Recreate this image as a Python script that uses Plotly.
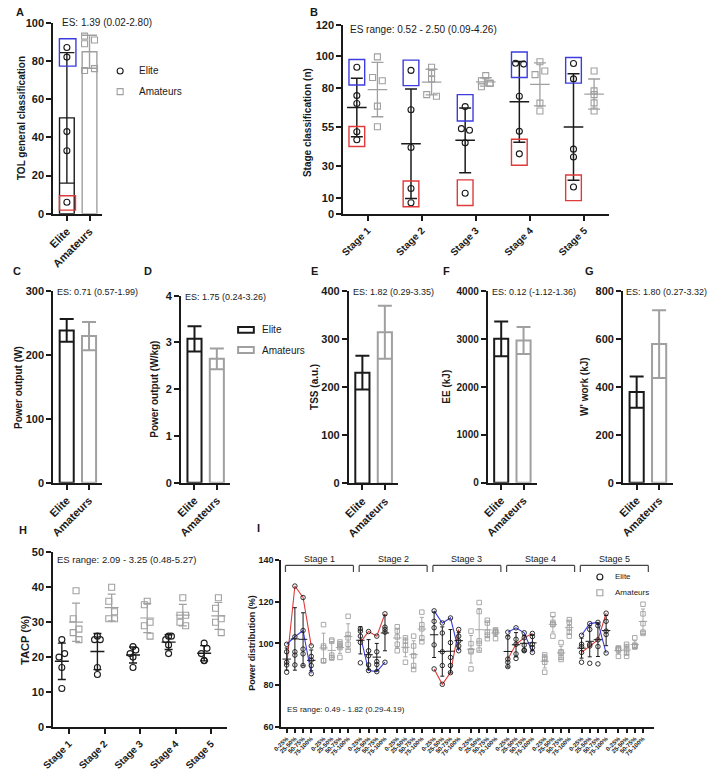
import numpy as np
import plotly.graph_objects as go

W, H = 708, 772
FONT = "Liberation Sans"
BLACK = "#1a1a1a"
GREY = "#a0a0a0"
BLUE = "#3c3ce0"
RED = "#e03a3a"

# ---------------- data ----------------
groups = ["Elite", "Amateurs"]

# A: TOL general classification
tol_elite = [87, 82, 43, 33, 6]
tol_amateurs = [93, 91, 89, 75, 76]
tol_top_box = [77.3, 91.6]
tol_bottom_box = [1.9, 9.4]
tol_es = "ES: 1.39 (0.02-2.80)"

# B: stage classification
stages = ["Stage 1", "Stage 2", "Stage 3", "Stage 4", "Stage 5"]
stage_elite = [[93, 75, 70, 52, 47],
               [91, 66, 42, 16, 7],
               [68, 54, 53, 45, 13],
               [95.5, 95, 74.6, 52.3, 38],
               [95.4, 85.6, 41, 36, 17]]
stage_amateurs = [[99.6, 86.5, 84.4, 68.3, 55.2],
                  [93, 89, 85.6, 75.6, 74.6],
                  [87.7, 84.4, 82.7, 80.6, 83],
                  [96.5, 88.3, 90.6, 70.2, 65.2],
                  [90.6, 78, 75.6, 70.4, 65.2]]
stage_top_box = [[81.7, 97.9], [81.3, 97.5], [58.9, 75.6], [86.5, 102.7], [82.9, 99.2]]
stage_bottom_box = [[42.7, 55.4], [4.4, 20.8], [5.2, 21.5], [30.8, 47.3], [8.3, 24.6]]
stage_es = "ES range: 0.52 - 2.50 (0.09-4.26)"

# C-G: means and SD
power_w_mean = [239, 230]
power_w_sd = [18, 22]
power_wkg_mean = [3.08, 2.65]
power_wkg_sd = [0.27, 0.22]
tss_mean = [230, 314]
tss_sd = [35, 55]
ee_mean = [3010, 2975]
ee_sd = [365, 280]
wwork_mean = [378, 578]
wwork_sd = [65, 141]
es_c = "ES: 0.71 (0.57-1.99)"
es_d = "ES: 1.75 (0.24-3.26)"
es_e = "ES: 1.82 (0.29-3.35)"
es_f = "ES: 0.12 (-1.12-1.36)"
es_g = "ES: 1.80 (0.27-3.32)"

# H: TACP
tacp_elite = [[25, 21, 20, 17, 11],
              [26, 25, 25, 17, 15],
              [23, 22, 21, 20, 17],
              [26, 26, 25, 23.5, 21],
              [24, 22.5, 21, 19, 19]]
tacp_amateurs = [[39, 31, 28, 27, 25],
                 [40, 36, 33, 31, 31],
                 [36, 35, 30, 29, 26],
                 [37, 32, 32, 30, 29],
                 [37, 34, 31, 30, 27]]
tacp_es = "ES range: 2.09 - 3.25 (0.48-5.27)"

# I: power distribution by quartile of each stage
quartiles = ["0-25%", "25-50%", "50-75%", "75-100%"]
pd_elite = [
    [[99.6, 96, 91, 89.7, 86.2], [127.5, 103.2, 96, 94.4, 89.7], [122, 106.2, 97.3, 95, 89.4], [98.8, 93.8, 92, 89.4, 85.5]],
    [[107, 105.9, 103.5, 100.5, 90.7], [105.7, 96.5, 94.1, 89.7, 87], [103.5, 96, 91.3, 89.9, 86.5], [114.2, 107.8, 106.7, 105.4, 91]],
    [[115.6, 110.6, 107.5, 99.3, 87.8], [109.8, 105, 96, 89.4, 80.4], [112.2, 100.4, 93.3, 89.4, 86], [106.7, 103.5, 101.2, 98.8, 96.5]],
    [[105.4, 103, 92.5, 91, 88.9], [107.5, 102, 99.6, 95, 92.8], [105.1, 102.7, 99.2, 96.8, 96.5], [104.8, 103.3, 99.6, 98, 95.7]],
    [[103.9, 99.6, 98.5, 95.7, 91], [109.5, 106.7, 99.6, 98.8, 90.5], [110.1, 108.5, 101.7, 98.5, 90.2], [114.5, 110.6, 105.9, 104.3, 95.4]],
]
pd_amateurs = [
    [[109, 98.8, 98, 91.7, 91.7], [101.6, 101, 94.4, 93.3, 93], [100.7, 99.6, 98.8, 98, 93.3], [113, 104.3, 102.7, 99.6, 96.8]],
    [[108, 105.9, 103.1, 99.6, 96.5], [102.7, 101, 99.2, 96.8, 91], [103.5, 98.8, 94.1, 89.4, 87.5], [115, 109, 107, 102.7, 100.8]],
    [[105.9, 99.9, 96.5, 96, 87.8], [119.6, 115.3, 101.2, 100, 96.8], [111.1, 109.8, 105.4, 104, 102.3], [106.5, 106, 105.4, 105, 102.3]],
    [[94.5, 93, 92.5, 91, 86.2], [113.8, 110.1, 109.3, 109, 103.5], [100.4, 96, 95.4, 93.3, 92.3], [111.4, 110.1, 107.5, 105.4, 103.5]],
    [[97.8, 97.6, 97.3, 96.7, 93.8], [99.6, 98.5, 97, 95.4, 93.8], [102.7, 99.2, 98.8, 98.5, 98.3], [118.8, 114.2, 109.5, 105.4, 104.8]],
]
pd_red = [[89.7, 127.5, 122, 98.8], [100.5, 105.7, 103.5, 114.2], [87.8, 80.4, 86, 106.7],
          [92.5, 99.6, 102.7, 104.8], [95.7, 98.8, 101.7, 114.5]]
pd_blue = [[99.6, 103.2, 106.2, 85.5], [103.5, 87, 86.5, 91], [115.6, 109.8, 112.2, 96.5],
           [105.4, 107.5, 105.1, 95.7], [103.9, 109.5, 110.1, 95.4]]
pd_es = "ES range: 0.49 - 1.82 (0.29-4.19)"

# ---------------- style constants ----------------
A_JIT_AM = [-0.22, 0.22, -0.22, -0.22, 0.22]
B_JIT_E = [[0, 0, 0, 0, 0], [0, 0, 0, 0, 0], [0, -0.07, 0.08, 0, 0], [-0.07, 0.08, 0, 0, 0], [0, 0, 0, 0, 0]]
B_JIT_A = [[0, -0.09, 0.09, 0, 0], [0, 0, 0, -0.09, 0.09], [0, -0.08, 0.08, -0.08, 0.08], [0, -0.09, 0.09, 0, 0], [0, 0, 0, 0, 0]]
H_JIT_E = [0, 0.08, -0.08, 0, 0]
H_JIT_A = [0, -0.08, 0.08, -0.08, 0.08]


def fx(p):
    return p / W


def fy(p):
    return 1 - p / H


fig = go.Figure()
layout = dict(width=W, height=H, margin=dict(l=0, r=0, t=0, b=0),
              plot_bgcolor="rgba(0,0,0,0)", paper_bgcolor="white", showlegend=False,
              barmode="overlay", font=dict(family=FONT, color=BLACK))
annotations = []
shapes = []

common = dict(showline=True, linecolor=BLACK, linewidth=2, ticks="outside", ticklen=5,
              tickwidth=2, tickcolor=BLACK, showgrid=False, zeroline=False, fixedrange=True)


def axes(n, xpx, ypx, xr, yr, xt, xtt, yt, xfs=11, yfs=11):
    sx = "" if n == 1 else str(n)
    layout["xaxis" + sx] = dict(domain=[fx(xpx[0]), fx(xpx[1])], range=xr, anchor="y" + sx,
                                tickmode="array", tickvals=list(xt), ticktext=list(xtt), tickangle=-45,
                                tickfont=dict(family=FONT, size=xfs, color=BLACK, weight="bold"), **common)
    layout["yaxis" + sx] = dict(domain=[fy(ypx[1]), fy(ypx[0])], range=yr, anchor="x" + sx,
                                tickmode="array", tickvals=list(yt), ticktext=[str(v) for v in yt],
                                tickfont=dict(family=FONT, size=yfs, color=BLACK, weight="bold"), **common)
    return "x" + sx, "y" + sx


def txt(x, y, s, size, bold=False, anchor="left", angle=0):
    if bold:
        s = "<b>" + s + "</b>"
    annotations.append(dict(x=fx(x), y=fy(y), xref="paper", yref="paper", text=s, showarrow=False,
                            xanchor=anchor, yanchor="middle", textangle=angle, borderpad=0,
                            font=dict(family=FONT, size=size, color=BLACK)))


def sd(v):
    return float(np.std(v, ddof=1))


def bar(xa, ya, i, m, s, lw=2, cap=7, bw=0.63):
    col = BLACK if i == 0 else GREY
    fig.add_trace(go.Bar(x=[i], y=[m], width=bw,
                         marker=dict(color="white", line=dict(color=col, width=lw)),
                         error_y=dict(type="data", array=[s], symmetric=True, color=col, thickness=lw, width=cap),
                         xaxis=xa, yaxis=ya, hoverinfo="skip"))


def meanbar(xa, ya, x, vals, col, msize, cap, lw=1.5):
    fig.add_trace(go.Scatter(x=[x], y=[float(np.mean(vals))], mode="markers",
                             marker=dict(symbol="line-ew", size=msize, color=col, line=dict(color=col, width=lw)),
                             error_y=dict(type="data", array=[sd(vals)], color=col, thickness=lw, width=cap),
                             xaxis=xa, yaxis=ya, hoverinfo="skip"))


def pts(xa, ya, xs, ys, elite, size=6, lw=1.1):
    fig.add_trace(go.Scatter(x=xs, y=ys, mode="markers",
                             marker=dict(symbol="circle-open" if elite else "square-open", size=size,
                                         color=BLACK if elite else GREY, line=dict(width=lw)),
                             xaxis=xa, yaxis=ya, hoverinfo="skip"))


def box(xa, ya, x0, x1, yy, col):
    shapes.append(dict(type="rect", xref=xa, yref=ya, x0=x0, x1=x1, y0=yy[0], y1=yy[1],
                       line=dict(color=col, width=1.4), fillcolor="rgba(0,0,0,0)"))


# ---------------- A ----------------
xa, ya = axes(1, (42, 92), (17, 211), [-0.6, 1.57], [0, 100], [0, 1], groups, [0, 20, 40, 60, 80, 100])
bar(xa, ya, 0, float(np.mean(tol_elite)), sd(tol_elite), lw=1.4, cap=7.5, bw=0.65)
bar(xa, ya, 1, float(np.mean(tol_amateurs)), sd(tol_amateurs), lw=1.4, cap=7.5, bw=0.65)
pts(xa, ya, [0] * len(tol_elite), tol_elite, True)
pts(xa, ya, [1 + j for j in A_JIT_AM], tol_amateurs, False)
box(xa, ya, -0.33, 0.4, tol_top_box, BLUE)
box(xa, ya, -0.33, 0.38, tol_bottom_box, RED)
txt(3, 6, "A", 11, True)
txt(50, 17, tol_es, 10)
txt(9, 114, "TOL general classification", 10, True, "center", -90)

# ---------------- B ----------------
xa, ya = axes(2, (337, 607), (19, 211), [-0.45, 4.45], [0, 120], range(5), stages,
              [0, 10, 30, 55, 80, 100, 120], xfs=10)
for i in range(5):
    xe, xam = i - 0.2, i + 0.18
    box(xa, ya, xe - 0.145, xe + 0.145, stage_top_box[i], BLUE)
    box(xa, ya, xe - 0.145, xe + 0.145, stage_bottom_box[i], RED)
    meanbar(xa, ya, xe, stage_elite[i], BLACK, 14, 6, 1.5)
    meanbar(xa, ya, xam, stage_amateurs[i], GREY, 14, 6, 1.3)
    pts(xa, ya, [xe + j for j in B_JIT_E[i]], stage_elite[i], True)
    pts(xa, ya, [xam + j for j in B_JIT_A[i]], stage_amateurs[i], False)
txt(302, 6, "B", 11, True)
txt(343, 24, stage_es, 10)
txt(300, 118, "Stage classification (n)", 10, True, "center", -90)

# ---------------- C-G ----------------
bar_panels = [
    (3, (42, 92), (290, 484.3), [0, 300], [0, 100, 200, 300], power_w_mean, power_w_sd,
     "C", 5, es_c, 45, "Power output (W)", 6),
    (4, (172, 222), (294.3, 484.3), [0, 4], [0, 1, 2, 3, 4], power_wkg_mean, power_wkg_sd,
     "D", 138, es_d, 175, "Power output (W/kg)", 145),
    (5, (342.7, 393), (289.3, 485), [0, 400], [0, 100, 200, 300, 400], tss_mean, tss_sd,
     "E", 308, es_e, 346, "TSS (a.u.)", 307),
    (6, (484, 534), (290, 484.3), [0, 4000], [0, 1000, 2000, 3000, 4000], ee_mean, ee_sd,
     "F", 442, es_f, 487, "EE (kJ)", 442),
    (7, (621.7, 672), (289.3, 484.3), [0, 800], [0, 200, 400, 600, 800], wwork_mean, wwork_sd,
     "G", 587, es_g, 624, "W' work (kJ)", 583),
]
for (n, xpx, ypx, yr, yt, means, sds, lab, labx, es, esx, title, tx) in bar_panels:
    xa, ya = axes(n, xpx, ypx, [-0.6, 1.6], yr, [0, 1], groups, yt, yfs=10 if n == 6 else 11)
    for i in range(2):
        bar(xa, ya, i, means[i], sds[i])
    txt(labx, 269, lab, 11, True, "center")
    txt(esx, ypx[0] + 1, es, 9)
    txt(tx, (ypx[0] + ypx[1]) / 2, title, 10, True, "center", -90)

# legend for D
shapes.append(dict(type="rect", xref="paper", yref="paper", x0=fx(230), x1=fx(246), y0=fy(332), y1=fy(326),
                   line=dict(color=BLACK, width=2), fillcolor="white"))
shapes.append(dict(type="rect", xref="paper", yref="paper", x0=fx(230), x1=fx(246), y0=fy(352.5), y1=fy(346.5),
                   line=dict(color=GREY, width=2), fillcolor="white"))
txt(253, 329, "Elite", 10)
txt(253, 350, "Amateurs", 10)

# ---------------- H ----------------
xa, ya = axes(8, (42, 219), (555, 732.3), [-0.44, 4.45], [0, 50], range(5), stages,
              [0, 10, 20, 30, 40, 50], xfs=10)
for i in range(5):
    xe, xam = i - 0.2, i + 0.2
    meanbar(xa, ya, xe, tacp_elite[i], BLACK, 10, 4, 1.4)
    meanbar(xa, ya, xam, tacp_amateurs[i], GREY, 10, 4, 1.2)
    pts(xa, ya, [xe + j for j in H_JIT_E], tacp_elite[i], True)
    pts(xa, ya, [xam + j for j in H_JIT_A], tacp_amateurs[i], False)
txt(6, 532, "H", 11, True)
txt(45, 562, tacp_es, 9.5)
txt(13, 644, "TACP (%)", 11, True, "center", -90)

# ---------------- I ----------------
ipos, itxt = [], []
for s in range(5):
    for g in (0, 4.5):
        for q in range(4):
            ipos.append(9 * s + g + q)
            itxt.append(quartiles[q])
xa, ya = axes(9, (274, 652.7), (562.7, 732.3), [-0.65, 44.8], [60, 140], ipos, itxt,
              [60, 80, 100, 120, 140], xfs=6, yfs=9)
layout["xaxis9"]["ticklen"] = 4
layout["xaxis9"]["tickwidth"] = 1.5
layout["yaxis9"]["ticklen"] = 4
for s in range(5):
    base = 9 * s
    fig.add_trace(go.Scatter(x=[base + q for q in range(4)], y=pd_red[s], mode="lines",
                             line=dict(color=RED, width=1.1), xaxis=xa, yaxis=ya, hoverinfo="skip"))
    fig.add_trace(go.Scatter(x=[base + q for q in range(4)], y=pd_blue[s], mode="lines",
                             line=dict(color=BLUE, width=1.1), xaxis=xa, yaxis=ya, hoverinfo="skip"))
    for q in range(4):
        xe = base + q
        xam = base + 4.5 + q
        meanbar(xa, ya, xe, pd_elite[s][q], BLACK, 6, 2, 1.0)
        meanbar(xa, ya, xam, pd_amateurs[s][q], GREY, 6, 2, 0.9)
        pts(xa, ya, [xe] * 5, pd_elite[s][q], True, size=4.5, lw=0.9)
        pts(xa, ya, [xam] * 5, pd_amateurs[s][q], False, size=4.5, lw=0.9)
    # stage bracket
    x0, x1 = base - 0.15, base + 8.15
    shapes.append(dict(type="line", xref=xa, yref="paper", x0=x0, x1=x1, y0=fy(568.3), y1=fy(568.3),
                       line=dict(color="#444444", width=1.2)))
    for xx in (x0, x1):
        shapes.append(dict(type="line", xref=xa, yref="paper", x0=xx, x1=xx, y0=fy(568.3), y1=fy(575),
                           line=dict(color="#444444", width=1.2)))
    annotations.append(dict(x=base + 4, y=fy(562), xref=xa, yref="paper", text=stages[s], showarrow=False,
                            xanchor="center", yanchor="middle", font=dict(family=FONT, size=9, color=BLACK)))
txt(248, 530, "I", 11, True)
txt(279, 715, pd_es, 8)
txt(244, 647, "Power distribution (%)", 9, True, "center", -90)

# ---------------- legend markers on a full-page overlay axis ----------------
layout["xaxis10"] = dict(domain=[0, 1], range=[0, W], visible=False, anchor="y10", fixedrange=True)
layout["yaxis10"] = dict(domain=[0, 1], range=[H, 0], visible=False, anchor="x10", fixedrange=True)
fig.add_trace(go.Scatter(x=[110, 598], y=[66, 580], mode="markers",
                         marker=dict(symbol="circle-open", size=6, color=BLACK, line=dict(width=1.1)),
                         xaxis="x10", yaxis="y10", hoverinfo="skip"))
fig.add_trace(go.Scatter(x=[110, 598], y=[87, 596], mode="markers",
                         marker=dict(symbol="square-open", size=6, color=GREY, line=dict(width=1.1)),
                         xaxis="x10", yaxis="y10", hoverinfo="skip"))
txt(128, 66, "Elite", 10)
txt(128, 87, "Amateurs", 10)
txt(612, 580, "Elite", 8)
txt(612, 596, "Amateurs", 8)

layout["annotations"] = annotations
layout["shapes"] = shapes
fig.update_layout(**layout)
fig.write_html("out.html")
